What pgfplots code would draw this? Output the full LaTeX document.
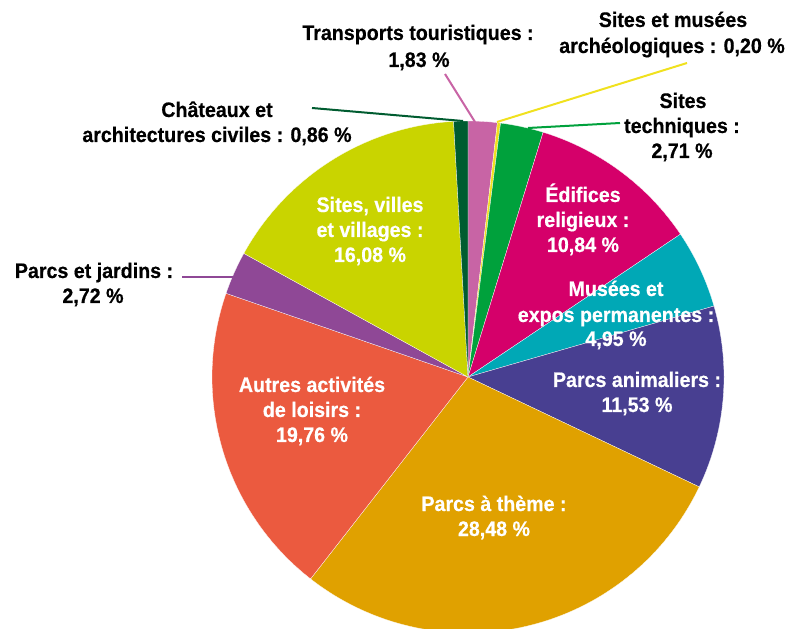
\documentclass[border=0pt]{standalone}
\usepackage{pgfplots}
\pgfplotsset{compat=1.18}
\usepgfplotslibrary{polar}
\usepackage{fontspec}
\setmainfont{Liberation Sans}[FakeStretch=0.935, BoldFeatures={FakeBold=0.5}]

\definecolor{cTrans}{HTML}{C864A5}
\definecolor{cArch}{HTML}{F0E11E}
\definecolor{cTech}{HTML}{00A13C}
\definecolor{cEdif}{HTML}{D5006A}
\definecolor{cMus}{HTML}{00A8B6}
\definecolor{cAnim}{HTML}{483F91}
\definecolor{cTheme}{HTML}{E0A100}
\definecolor{cAutres}{HTML}{EB5A3F}
\definecolor{cJard}{HTML}{8F4896}
\definecolor{cSites}{HTML}{C9D400}
\definecolor{cChat}{HTML}{005C30}

% one wedge: colour, start angle, end angle (radius 1)
\newcommand{\slice}[3]{%
  \addplot[draw=white, line width=0.2pt, fill=#1, domain=#3:#2, samples=120]
    {1} -- (axis cs:0,0) -- cycle;}

\begin{document}
\begin{tikzpicture}
  \useasboundingbox (0,0) rectangle (593.25pt,471pt);
  \clip (0,0) rectangle (593.25pt,471pt);

  % part (%) -> angles, clockwise from the top (3.6 deg per %)
  \begin{polaraxis}[
    at={(351pt,188.25pt)}, anchor=center,
    hide axis, scale only axis,
    width=384pt, height=384pt,
    xmin=0, xmax=360, ymin=0, ymax=1,
    clip=false,
  ]
    \slice{cTrans}{90}{83.412}        % Transports touristiques 1,83
    \slice{cArch}{83.412}{82.692}     % Sites archéologiques 0,20
    \slice{cTech}{82.692}{72.936}     % Sites techniques 2,71
    \slice{cEdif}{72.936}{33.912}     % Édifices religieux 10,84
    \slice{cMus}{33.912}{16.092}      % Musées 4,95
    \slice{cAnim}{16.092}{-25.416}    % Parcs animaliers 11,53
    \slice{cTheme}{-25.416}{-127.944} % Parcs à thème 28,48
    \slice{cAutres}{-127.944}{-199.08}% Autres activités 19,76
    \slice{cJard}{-199.08}{-208.872}  % Parcs et jardins 2,72
    \slice{cSites}{-208.872}{-266.76} % Sites, villes 16,08
    \slice{cChat}{-266.76}{-270}      % Châteaux 0,86
  \end{polaraxis}

  \begin{scope}[x=0.75pt, y=-0.75pt, shift={(0pt,471pt)}]
  % leader lines
  \draw[cTrans, line width=1.5pt] (445,74) -- (475,122);
  \draw[cArch, line width=1.5pt] (687,63) -- (497,122);
  \draw[cTech, line width=1.5pt] (620,123) -- (528,128);
  \draw[cChat, line width=1.5pt] (312,108) -- (463,121);
  \draw[cJard, line width=1.5pt] (182,277) -- (233,277);

  \tikzset{lb/.style={anchor=base, inner sep=0pt,
      font=\fontsize{15.75pt}{18.75pt}\selectfont\bfseries}}
  % black labels
  \node[lb] at (418,40) {Transports touristiques :};
  \node[lb] at (419,67) {1,83 \%};
  \node[lb] at (673,27) {Sites et musées};
  \node[lb] at (672,53) {archéologiques : 0,20 \%};
  \node[lb] at (683,108) {Sites};
  \node[lb] at (682,133) {techniques :};
  \node[lb] at (682,158) {2,71 \%};
  \node[lb] at (217,117) {Châteaux et};
  \node[lb] at (217,142) {architectures civiles : 0,86 \%};
  \node[lb] at (94,278) {Parcs et jardins :};
  \node[lb] at (93,303) {2,72 \%};
  % white labels
  \begin{scope}[every node/.append style={text=white}]
    \node[lb] at (370,212) {Sites, villes};
    \node[lb] at (370,237) {et villages :};
    \node[lb] at (370,262) {16,08 \%};
    \node[lb] at (583,202) {Édifices};
    \node[lb] at (583,227) {religieux :};
    \node[lb] at (583,252) {10,84 \%};
    \node[lb] at (616,296) {Musées et};
    \node[lb] at (616,322) {expos permanentes :};
    \node[lb] at (616,346) {4,95 \%};
    \node[lb] at (637,387) {Parcs animaliers :};
    \node[lb] at (637,412) {11,53 \%};
    \node[lb] at (312,392) {Autres activités};
    \node[lb] at (312,417) {de loisirs :};
    \node[lb] at (312,442) {19,76 \%};
    \node[lb] at (494,511) {Parcs à thème :};
    \node[lb] at (494,536) {28,48 \%};
  \end{scope}
  \end{scope}
\end{tikzpicture}
\end{document}
